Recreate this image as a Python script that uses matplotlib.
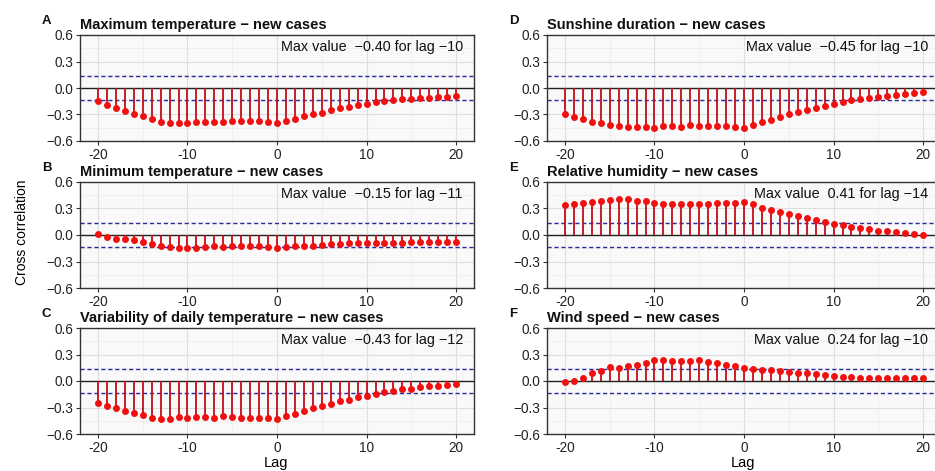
import numpy as np
import matplotlib
matplotlib.use("Agg")
import matplotlib.pyplot as plt
from matplotlib.ticker import FixedLocator

plt.rcParams['font.family'] = ['Liberation Sans', 'DejaVu Sans']

lags = list(range(-20, 21))

max_temp = [-0.15, -0.19, -0.23, -0.26, -0.29, -0.32, -0.35, -0.38, -0.395, -0.40, -0.40,
            -0.385, -0.38, -0.38, -0.38, -0.37, -0.37, -0.37, -0.37, -0.385, -0.395,
            -0.37, -0.35, -0.32, -0.30, -0.28, -0.25, -0.23, -0.21, -0.19, -0.18,
            -0.16, -0.15, -0.14, -0.13, -0.12, -0.115, -0.11, -0.10, -0.10, -0.09]

min_temp = [0.01, -0.02, -0.04, -0.05, -0.06, -0.08, -0.10, -0.12, -0.14, -0.15, -0.15,
            -0.145, -0.135, -0.13, -0.135, -0.13, -0.125, -0.13, -0.13, -0.14, -0.145,
            -0.14, -0.13, -0.125, -0.12, -0.11, -0.105, -0.10, -0.095, -0.09, -0.085,
            -0.085, -0.085, -0.085, -0.085, -0.08, -0.08, -0.08, -0.08, -0.08, -0.08]

var_temp = [-0.25, -0.28, -0.30, -0.335, -0.365, -0.39, -0.42, -0.425, -0.43, -0.41, -0.42,
            -0.41, -0.41, -0.415, -0.40, -0.41, -0.42, -0.415, -0.415, -0.42, -0.425,
            -0.40, -0.37, -0.34, -0.31, -0.285, -0.26, -0.23, -0.21, -0.185, -0.165,
            -0.145, -0.125, -0.11, -0.095, -0.085, -0.07, -0.06, -0.055, -0.04, -0.03]

sunshine = [-0.30, -0.33, -0.35, -0.38, -0.40, -0.42, -0.435, -0.445, -0.445, -0.44, -0.45,
            -0.43, -0.435, -0.44, -0.42, -0.425, -0.435, -0.43, -0.435, -0.445, -0.448,
            -0.42, -0.39, -0.36, -0.33, -0.30, -0.27, -0.25, -0.23, -0.20, -0.18,
            -0.16, -0.14, -0.13, -0.115, -0.105, -0.09, -0.08, -0.07, -0.06, -0.045]

humidity = [0.34, 0.35, 0.36, 0.37, 0.38, 0.40, 0.41, 0.405, 0.39, 0.38, 0.36,
            0.35, 0.35, 0.35, 0.35, 0.35, 0.355, 0.36, 0.36, 0.365, 0.375,
            0.35, 0.31, 0.28, 0.26, 0.24, 0.21, 0.19, 0.17, 0.15, 0.13,
            0.11, 0.095, 0.08, 0.065, 0.05, 0.04, 0.03, 0.02, 0.01, 0.00]

wind = [-0.01, 0.005, 0.035, 0.09, 0.115, 0.155, 0.145, 0.165, 0.185, 0.205, 0.24,
        0.235, 0.225, 0.23, 0.23, 0.235, 0.22, 0.20, 0.18, 0.17, 0.145,
        0.135, 0.125, 0.12, 0.11, 0.10, 0.09, 0.085, 0.075, 0.065, 0.06,
        0.05, 0.04, 0.035, 0.03, 0.03, 0.03, 0.03, 0.03, 0.03, 0.03]

panels = [
    ("A", "Maximum temperature \u2212 new cases", max_temp, "Max value  \u22120.40 for lag \u221210"),
    ("B", "Minimum temperature \u2212 new cases", min_temp, "Max value  \u22120.15 for lag \u221211"),
    ("C", "Variability of daily temperature \u2212 new cases", var_temp, "Max value  \u22120.43 for lag \u221212"),
    ("D", "Sunshine duration \u2212 new cases", sunshine, "Max value  \u22120.45 for lag \u221210"),
    ("E", "Relative humidity \u2212 new cases", humidity, "Max value  0.41 for lag \u221214"),
    ("F", "Wind speed \u2212 new cases", wind, "Max value  0.24 for lag \u221210"),
]

conf = 0.135
yticks = [-0.6, -0.3, 0.0, 0.3, 0.6]
ytick_labels = ["\u22120.6", "\u22120.3", "0.0", "0.3", "0.6"]
xticks = [-20, -10, 0, 10, 20]
xtick_labels = ["-20", "-10", "0", "10", "20"]

W, H = 935, 471
fig = plt.figure(figsize=(W / 100, H / 100), dpi=100)

col_left = [80, 547]
col_width = 394
row_top = [35, 182, 328]
row_h = 106

for i, (letter, title, vals, note) in enumerate(panels):
    c = i // 3
    r = i % 3
    x0 = col_left[c]
    y0 = row_top[r]
    ax = fig.add_axes([x0 / W, 1 - (y0 + row_h) / H, col_width / W, row_h / H])
    ax.set_facecolor('#F9F9F9')
    ax.set_xlim(-22, 22)
    ax.set_ylim(-0.6, 0.6)
    ax.xaxis.set_major_locator(FixedLocator(xticks))
    ax.xaxis.set_minor_locator(FixedLocator([-15, -5, 5, 15]))
    ax.yaxis.set_major_locator(FixedLocator(yticks))
    ax.yaxis.set_minor_locator(FixedLocator([-0.45, -0.15, 0.15, 0.45]))
    ax.set_xticklabels(xtick_labels)
    ax.set_yticklabels(ytick_labels)
    ax.grid(which='major', color='#DEDEDE', linewidth=0.8)
    ax.grid(which='minor', color='#EBEBEB', linewidth=0.5)
    ax.set_axisbelow(True)
    ax.tick_params(which='major', length=3, width=0.8, color='#333333',
                   labelsize=9.8, labelcolor='#222222', pad=2)
    ax.tick_params(which='minor', length=0)
    for s in ax.spines.values():
        s.set_color('#333333')
        s.set_linewidth(1.0)
    ax.axhline(0, color='#222222', linewidth=1.0, zorder=2)
    ax.axhline(conf, color='#2B2BA0', linewidth=1.0, linestyle=(0, (3, 2)), zorder=2)
    ax.axhline(-conf, color='#2B2BA0', linewidth=1.0, linestyle=(0, (3, 2)), zorder=2)
    ax.vlines(lags, 0, vals, color='#C00E18', linewidth=1.3, zorder=3)
    ax.plot(lags, vals, 'o', color='#F01010', markersize=5, markeredgewidth=0, zorder=4)
    ax.text(0.972 if c == 0 else 0.967, 0.885, note, transform=ax.transAxes,
            ha='right', va='center', fontsize=10.4, color='#111111')
    ax.text(0, 1.03, title, transform=ax.transAxes, ha='left', va='bottom',
            fontsize=10.5, fontweight='bold', color='#111111')
    fig.text((x0 - 38) / W, 1 - (y0 - 14) / H, letter, ha='left', va='center',
             fontsize=9.5, fontweight='bold', color='#111111')
    if r == 2:
        fig.text((x0 + 196) / W, 1 - 467 / H, "Lag", ha='center', va='baseline',
                 fontsize=10.5)

fig.text(22 / W, 1 - 232 / H, "Cross correlation", rotation=90, ha='center', va='center',
         fontsize=10)

fig.savefig("out.png", dpi=100)
